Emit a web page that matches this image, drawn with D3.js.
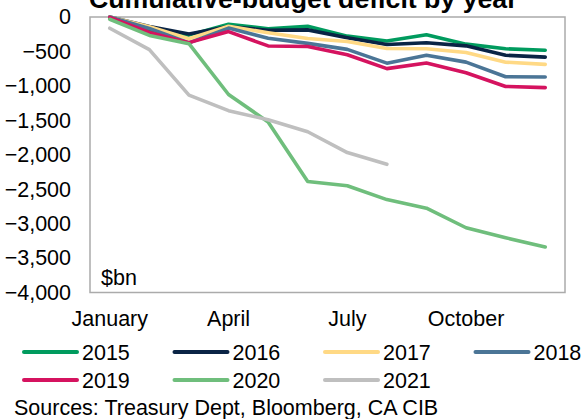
<!DOCTYPE html>
<html>
<head>
<meta charset="utf-8">
<script src="https://cdn.jsdelivr.net/npm/d3@7"></script>
<style>
  html, body { margin: 0; padding: 0; background: #fff; }
  svg { display: block; font-family: "Liberation Sans", Arial, sans-serif; }
</style>
</head>
<body>
<svg id="chart" width="582" height="419"></svg>
<script>
// Months of the calendar year (x categories) and the ones that get a label
const months = ["Jan", "Feb", "Mar", "Apr", "May", "Jun", "Jul", "Aug", "Sep", "Oct", "Nov", "Dec"];
const monthLabels = { Jan: "January", Apr: "April", Jul: "July", Oct: "October" };

// Cumulative budget balance by year, $bn
const years = ["2015", "2016", "2017", "2018", "2019", "2020", "2021"];
const v2015 = [-18, -210, -263, -106, -170, -136, -278, -349, -258, -394, -462, -483];
const v2016 = [0, -138, -246, -140, -193, -187, -300, -400, -374, -419, -556, -583];
const v2017 = [0, -141, -317, -135, -228, -313, -356, -458, -462, -515, -656, -688];
const v2018 = [0, -166, -375, -161, -308, -383, -470, -670, -555, -655, -868, -872];
const v2019 = [-5, -225, -372, -212, -420, -428, -548, -750, -668, -810, -1008, -1025];
const v2020 = [-33, -268, -387, -1125, -1524, -2388, -2451, -2651, -2776, -3060, -3205, -3340];
const v2021 = [-163, -474, -1134, -1360, -1492, -1666, -1968, -2139];
const seriesValues = [v2015, v2016, v2017, v2018, v2019, v2020, v2021];
const colors = ["#009B5E", "#0A2445", "#FFD985", "#4B7596", "#D5135F", "#6FBE7C", "#BFBFBF"];

const yTicks = [0, -500, -1000, -1500, -2000, -2500, -3000, -3500, -4000];

const svg = d3.select("#chart");
const plot = { left: 90, right: 565, top: 17, bottom: 292.5 };
const FS = 21.5;

const x = d3.scaleBand().domain(months).range([plot.left, plot.right]);
const y = d3.scaleLinear().domain([-4000, 0]).range([plot.bottom, plot.top]);
const xc = m => x(m) + x.bandwidth() / 2;

// Title (runs off the top edge)
svg.append("text")
  .attr("x", 89).attr("y", 8)
  .attr("font-size", 26.7).attr("font-weight", "bold").attr("fill", "#000")
  .text("Cumulative-budget deficit by year");

// Plot frame
svg.append("rect")
  .attr("x", plot.left).attr("y", plot.top)
  .attr("width", plot.right - plot.left).attr("height", plot.bottom - plot.top)
  .attr("fill", "none").attr("stroke", "#ABABAB").attr("stroke-width", 1.5);

// Y axis labels
const yAxis = d3.axisLeft(y).tickValues(yTicks).tickSize(0).tickPadding(0)
  .tickFormat(d3.format(",.0f"));
const gy = svg.append("g").attr("transform", `translate(71,0)`).call(yAxis);
gy.select(".domain").remove();
gy.selectAll("text").attr("font-size", FS).attr("fill", "#000")
  .attr("font-family", "Liberation Sans, Arial, sans-serif");

// X axis labels
const xAxis = d3.axisBottom(x).tickSize(0).tickPadding(0)
  .tickValues(Object.keys(monthLabels)).tickFormat(m => monthLabels[m]);
const gx = svg.append("g").attr("transform", `translate(0,${plot.bottom + 18})`).call(xAxis);
gx.select(".domain").remove();
gx.selectAll("text").attr("font-size", FS).attr("fill", "#000")
  .attr("font-family", "Liberation Sans, Arial, sans-serif");

// Unit label
svg.append("text").attr("x", 101).attr("y", 285)
  .attr("font-size", FS).attr("fill", "#000").text("$bn");

// Lines
const line = d3.line().x((d, i) => xc(months[i])).y(d => y(d));
seriesValues.forEach((vals, k) => {
  svg.append("path")
    .datum(vals)
    .attr("d", line)
    .attr("fill", "none")
    .attr("stroke", colors[k])
    .attr("stroke-width", 3.6)
    .attr("stroke-linejoin", "round")
    .attr("stroke-linecap", "round");
});

// Legend
const legend = svg.append("g");
years.forEach((yr, k) => {
  const col = k < 4 ? k : k - 4;
  const row = k < 4 ? 0 : 1;
  const lx = 24 + col * 150.5;
  const ly = 352 + row * 28;
  legend.append("line")
    .attr("x1", lx).attr("x2", lx + 53).attr("y1", ly).attr("y2", ly)
    .attr("stroke", colors[k]).attr("stroke-width", 4).attr("stroke-linecap", "round");
  legend.append("text")
    .attr("x", lx + 58).attr("y", ly + 7.5)
    .attr("font-size", FS).attr("fill", "#000").text(yr);
});

// Source note
svg.append("text").attr("x", 14).attr("y", 415)
  .attr("font-size", FS).attr("fill", "#000")
  .text("Sources: Treasury Dept, Bloomberg, CA CIB");
</script>
</body>
</html>
